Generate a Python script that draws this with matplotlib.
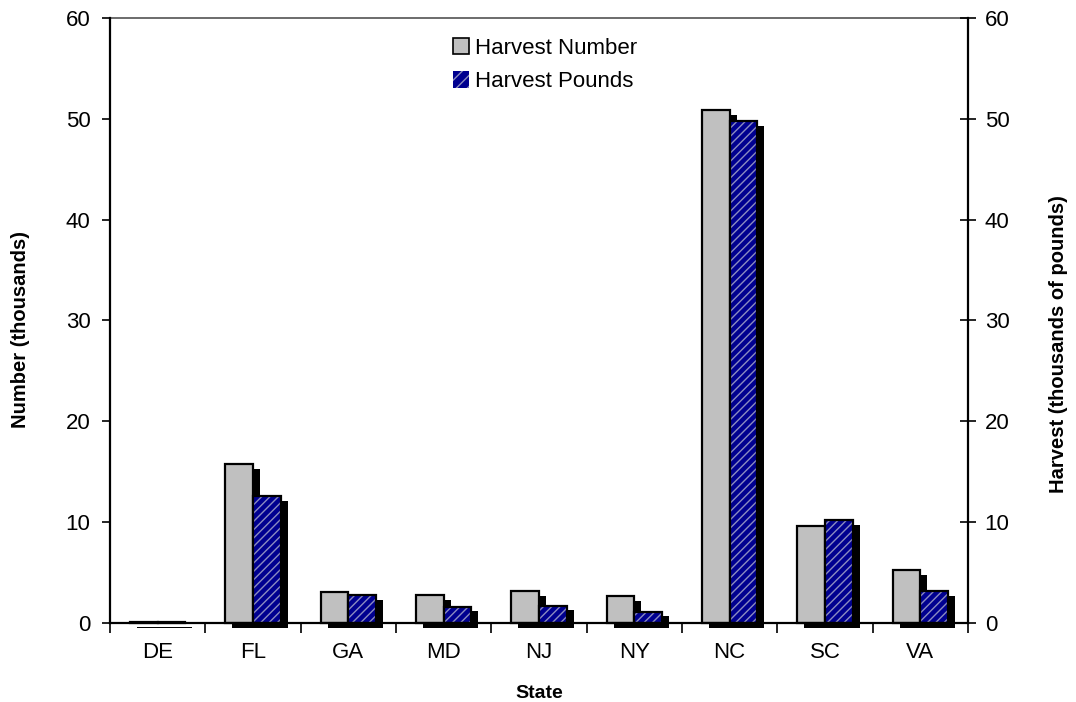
import matplotlib.pyplot as plt
import matplotlib.patheffects as pe
from matplotlib.patches import Patch
import numpy as np

plt.rcParams['font.family'] = ['Liberation Sans', 'DejaVu Sans']

states = ["DE", "FL", "GA", "MD", "NJ", "NY", "NC", "SC", "VA"]
harvest_number = [0.05, 15.7, 3.0, 2.7, 3.1, 2.6, 50.9, 9.6, 5.2]
harvest_pounds = [0.1, 12.6, 2.7, 1.6, 1.7, 1.1, 49.8, 10.2, 3.1]

x = np.arange(len(states))
w = 0.29
shadow_only = [pe.SimplePatchShadow(offset=(5, -3.5), shadow_rgbFace='black', alpha=1.0)]

fig = plt.figure(figsize=(10.76, 7.02), dpi=100)
ax = fig.add_axes([0.1022, 0.113, 0.7974, 0.8614])

# gray bars (shadow layer, then bar)
sh1 = ax.bar(x - w / 2, harvest_number, w, color='black', linewidth=1.6,
             edgecolor='black', clip_on=False, zorder=1.5)
for r in sh1:
    r.set_path_effects(shadow_only)
ax.bar(x - w / 2, harvest_number, w, color='#c0c0c0', edgecolor='black',
       linewidth=1.6, clip_on=False, zorder=2)

# blue hatched bars: shadow, hatch fill, outline
sh2 = ax.bar(x + w / 2, harvest_pounds, w, color='black', linewidth=1.6,
             edgecolor='black', clip_on=False, zorder=2.5)
for r in sh2:
    r.set_path_effects(shadow_only)
ax.bar(x + w / 2, harvest_pounds, w, color='#000090', edgecolor='#8c8cc0',
       hatch='////', linewidth=0, clip_on=False, zorder=3)
ax.bar(x + w / 2, harvest_pounds, w, color='none', edgecolor='black',
       linewidth=1.6, clip_on=False, zorder=4)

ax.set_xlim(-0.5, len(states) - 0.5)
ax.set_ylim(0, 60)
ax.set_yticks(range(0, 61, 10))
ax.set_xticks(x)
ax.set_xticklabels(states)
ax.set_xticks(np.arange(-0.5, len(states), 1), minor=True)
ax.tick_params(axis='x', which='major', length=0, pad=14, labelsize=16)
ax.tick_params(axis='x', which='minor', length=7, width=1.2, direction='out')
ax.tick_params(axis='y', length=6, width=1.2, direction='out', labelsize=16, pad=8)

for s in ['left', 'bottom']:
    ax.spines[s].set_linewidth(1.6)
    ax.spines[s].set_zorder(5)
ax.spines['top'].set_color('#606060')
ax.spines['top'].set_linewidth(1.3)
ax.spines['right'].set_visible(False)

ax2 = ax.twinx()
ax2.set_ylim(0, 60)
ax2.set_yticks(range(0, 61, 10))
ax2.tick_params(axis='y', length=12, width=1.2, direction='inout', labelsize=16, pad=6)
ax2.spines['right'].set_linewidth(1.6)
for s in ['left', 'top', 'bottom']:
    ax2.spines[s].set_visible(False)

ax.set_xlabel("State", fontsize=14, fontweight='bold', labelpad=16)
ax.set_ylabel("Number (thousands)", fontsize=14.5, fontweight='bold')
ax.yaxis.set_label_coords(-0.093, 0.485)
ax2.set_ylabel("Harvest (thousands of pounds)", fontsize=14.5, fontweight='bold')
ax2.yaxis.set_label_coords(1.095, 0.46)

# legend
handles = [Patch(facecolor='#c0c0c0', edgecolor='black', linewidth=1.2),
           Patch(facecolor='#000090', edgecolor='#8c8cc0', hatch='///', linewidth=0)]
ax.legend(handles, ["Harvest Number", "Harvest Pounds"], loc='upper center',
          bbox_to_anchor=(0.507, 1.0), frameon=False, fontsize=16,
          handlelength=0.75, handleheight=0.75, handletextpad=0.25, labelspacing=0.55)

fig.savefig("out.png", dpi=100)
